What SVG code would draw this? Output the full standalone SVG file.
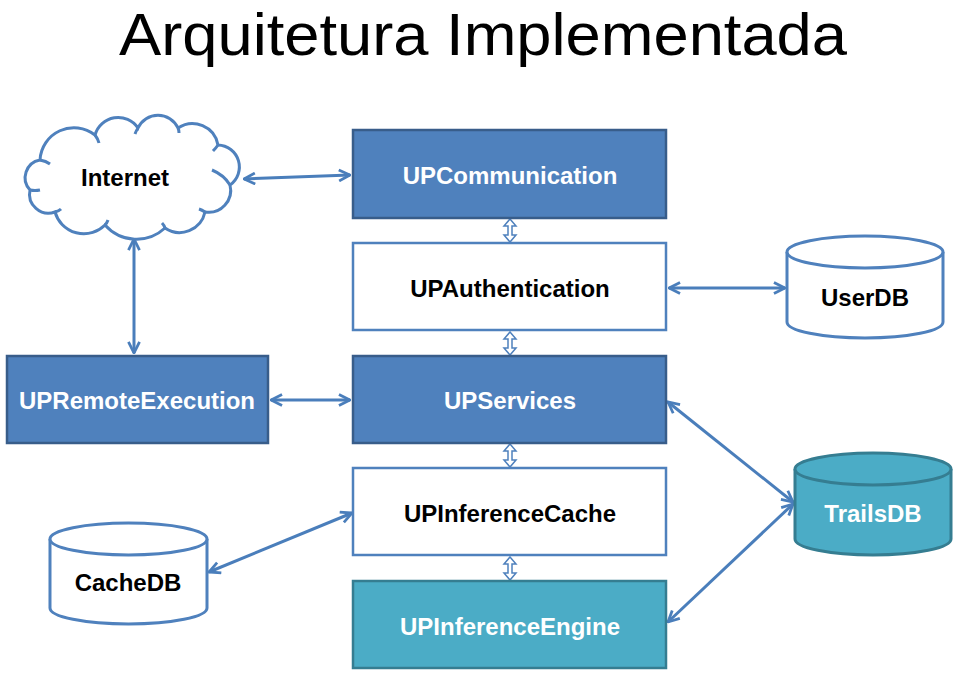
<svg xmlns="http://www.w3.org/2000/svg" xmlns:xlink="http://www.w3.org/1999/xlink" width="959" height="675" viewBox="0 0 959 675">
<style>
.t{font-family:"Liberation Sans",Arial,sans-serif;font-weight:bold;font-size:24px;text-anchor:middle}
.w{fill:#ffffff}
.k{fill:#000000}
.blue{fill:#4F81BD;stroke:#385D8A;stroke-width:2.5}
.white{fill:#ffffff;stroke:#4F81BD;stroke-width:2.5}
.teal{fill:#4BACC6;stroke:#357D91;stroke-width:2.5}
.cyl{fill:#ffffff;stroke:#4F81BD;stroke-width:3}
.cylt{fill:#4BACC6;stroke:#357D91;stroke-width:3}
.con{fill:none;stroke:#4A7EBB;stroke-width:3;marker-start:url(#ah);marker-end:url(#ah)}
.ud{fill:#ffffff;stroke:#4F81BD;stroke-width:1.5}
</style>
<defs>
<marker id="ah" viewBox="0 0 10 10" refX="9" refY="5" markerWidth="4.6" markerHeight="4.6" orient="auto-start-reverse" markerUnits="strokeWidth">
<path d="M1,1 L9,5 L1,9" fill="none" stroke="#4A7EBB" stroke-width="2" stroke-linejoin="miter"/>
</marker>
<path id="ud" d="M0,1 L6,8 L2,8 L2,17 L6,17 L0,24 L-6,17 L-2,17 L-2,8 L-6,8 Z"/>
</defs>
<rect width="959" height="675" fill="#ffffff"/>
<text x="483" y="55" font-family="'Liberation Sans',Arial,sans-serif" font-size="60" text-anchor="middle" textLength="728" lengthAdjust="spacingAndGlyphs" fill="#000000">Arquitetura Implementada</text>

<g id="connectors">
<line class="con" x1="244" y1="179" x2="350" y2="175"/>
<line class="con" x1="134" y1="239" x2="134" y2="353"/>
<line class="con" x1="271" y1="400" x2="350" y2="400"/>
<line class="con" x1="669" y1="288" x2="785" y2="288"/>
<line class="con" x1="668" y1="402" x2="793" y2="502"/>
<line class="con" x1="668" y1="622" x2="793" y2="504"/>
<line class="con" x1="209" y1="572" x2="352" y2="513"/>
<use href="#ud" class="ud" x="510" y="218"/>
<use href="#ud" class="ud" x="510" y="331"/>
<use href="#ud" class="ud" x="510" y="443"/>
<use href="#ud" class="ud" x="510" y="556"/>
</g>

<g id="internet">
<path d="M40,160 A34,34 0 0 1 95,135 A24,24 0 0 1 138,128 A22,22 0 0 1 178,128 A26,26 0 0 1 218,145 A22,22 0 0 1 230,185 A22,22 0 0 1 205,212 A26,26 0 0 1 165,228 A42,42 0 0 1 105,225 A30,30 0 0 1 55,212 A19,19 0 0 1 30,190 A18,18 0 0 1 40,160 Z" fill="#ffffff" stroke="#4F81BD" stroke-width="3"/>
<path d="M40,160 q6,1 10,4 M95,135 q3,4 4,8 M138,128 q-2,3 -3,6 M178,128 q1,2 1,5 M218,145 q-2,3 -5,6 M230,185 q-6,-10 -18,-15 M205,212 q-3,-2 -6,-3 M165,228 q-1,-3 -3,-5 M105,225 q2,-2 3,-5 M55,212 q4,-1 6,-3 M30,190 q5,1 10,0" fill="none" stroke="#4F81BD" stroke-width="3"/>
<text class="t k" x="125" y="186">Internet</text>
</g>

<g id="upcommunication">
<rect class="blue" x="353" y="130" width="313" height="88"/>
<text class="t w" x="510" y="184">UPCommunication</text>
</g>

<g id="upauthentication">
<rect class="white" x="353" y="243" width="313" height="87"/>
<text class="t k" x="510" y="297">UPAuthentication</text>
</g>

<g id="upservices">
<rect class="blue" x="353" y="356" width="313" height="87"/>
<text class="t w" x="510" y="409">UPServices</text>
</g>

<g id="upinferencecache">
<rect class="white" x="353" y="468" width="313" height="87"/>
<text class="t k" x="510" y="522">UPInferenceCache</text>
</g>

<g id="upinferenceengine">
<rect class="teal" x="353" y="581" width="313" height="87"/>
<text class="t w" x="510" y="635">UPInferenceEngine</text>
</g>

<g id="upremoteexecution">
<rect class="blue" x="7" y="356" width="261" height="87"/>
<text class="t w" x="137" y="409">UPRemoteExecution</text>
</g>

<g id="userdb">
<path class="cyl" d="M787,252 A78,16 0 0 1 943,252 L943,322 A78,16 0 0 1 787,322 Z"/>
<path class="cyl" fill="none" d="M787,252 A78,16 0 0 0 943,252"/>
<text class="t k" x="865" y="306">UserDB</text>
</g>

<g id="trailsdb">
<path class="cylt" d="M795,469 A78,16 0 0 1 951,469 L951,539 A78,16 0 0 1 795,539 Z"/>
<path class="cylt" fill="none" d="M795,469 A78,16 0 0 0 951,469"/>
<text class="t w" x="873" y="522">TrailsDB</text>
</g>

<g id="cachedb">
<path class="cyl" d="M50,539 A78.5,16 0 0 1 207,539 L207,608 A78.5,16 0 0 1 50,608 Z"/>
<path class="cyl" fill="none" d="M50,539 A78.5,16 0 0 0 207,539"/>
<text class="t k" x="128" y="591">CacheDB</text>
</g>
</svg>
